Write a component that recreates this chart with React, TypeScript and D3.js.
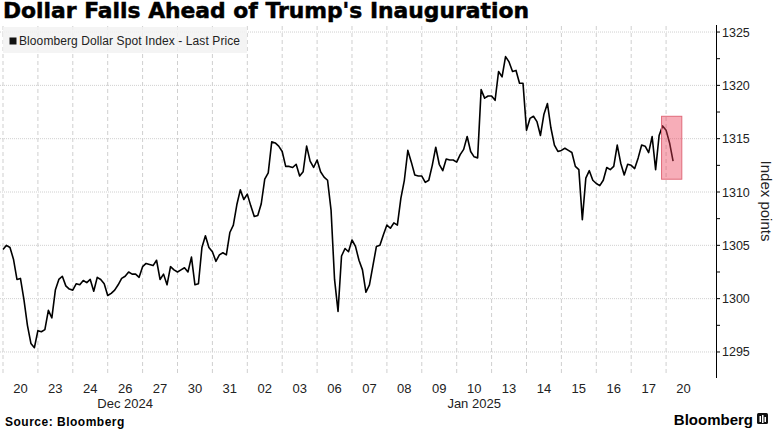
import React from "react";
import * as d3 from "d3";

const dayLabels = ["20", "23", "24", "26", "27", "30", "31", "02", "03", "06", "07", "08", "09", "10", "13", "14", "15", "16", "17", "20"];
const monthLabels = ["Dec 2024", "Jan 2025"];
const monthFirstDay = [0, 7];
const monthLastDay = [6, 19];
const yTicks = [1295, 1300, 1305, 1310, 1315, 1320, 1325];
const POINTS_PER_DAY = 10;

const indexValues = [
  1304.6, 1305.0, 1304.8, 1303.7, 1301.8, 1301.9, 1299.9, 1297.5, 1295.8, 1295.4,
  1297.0, 1296.9, 1297.1, 1298.9, 1298.2, 1300.8, 1301.8, 1302.1, 1301.2, 1300.9,
  1300.8, 1301.4, 1301.3, 1301.7, 1301.5, 1301.8, 1300.7, 1302.0, 1301.8, 1301.4,
  1300.3, 1300.5, 1300.8, 1301.3, 1301.9, 1302.1, 1302.5, 1302.3, 1302.3, 1302.0,
  1303.0, 1303.3, 1303.2, 1303.1, 1303.6, 1301.8, 1302.3, 1301.3, 1303.0, 1302.7,
  1302.5, 1302.7, 1302.9, 1302.5, 1303.9, 1301.3, 1301.4, 1304.8, 1305.9, 1304.8,
  1304.4, 1303.5, 1304.1, 1304.3, 1304.1, 1306.2, 1306.9, 1308.8, 1310.2, 1309.3,
  1309.8, 1308.7, 1307.7, 1307.8, 1308.9, 1311.2, 1311.8, 1314.7, 1314.6, 1314.3,
  1313.8, 1312.4, 1312.4, 1312.3, 1312.6, 1311.5, 1311.9, 1314.3, 1312.9, 1312.3,
  1313.0, 1311.9, 1311.4, 1311.1, 1308.3, 1301.8, 1298.8, 1304.0, 1304.7, 1304.4,
  1305.5, 1304.9, 1303.6, 1302.7, 1300.6, 1301.3, 1303.1, 1304.9, 1305.0, 1306.0,
  1306.9, 1306.6, 1307.1, 1306.9, 1309.4, 1311.1, 1313.9, 1312.8, 1311.6, 1311.5,
  1311.5, 1310.9, 1311.1, 1312.5, 1314.2, 1312.6, 1312.0, 1313.1, 1313.0, 1313.0,
  1312.8, 1313.5, 1314.0, 1315.2, 1313.8, 1313.3, 1313.2, 1319.6, 1318.8, 1319.0,
  1319.0, 1318.6, 1321.3, 1320.8, 1322.7, 1322.2, 1321.3, 1321.4, 1320.2, 1320.2,
  1315.8, 1316.9, 1317.1, 1316.6, 1315.3, 1317.3, 1318.3, 1316.0, 1314.4, 1313.8,
  1313.9, 1314.1, 1313.9, 1313.7, 1312.4, 1312.1, 1307.4, 1311.3, 1312.0, 1311.1,
  1310.8, 1310.6, 1311.1, 1312.3, 1312.1, 1312.4, 1314.4, 1312.7, 1311.6, 1312.6,
  1312.5, 1312.2, 1313.2, 1314.4, 1314.3, 1313.7, 1315.2, 1312.1, 1315.3, 1316.2,
  1315.8, 1314.6, 1312.9,
];

// highlighted region (fractional trading days, index points)
const highlightDays = [18.87, 19.45];
const highlightRange = [1311.2, 1317.1];

const W = 783;
const H = 431;
const FONT = "'Liberation Sans', Arial, sans-serif";
const TITLE_FONT = "'DejaVu Sans', 'Liberation Sans', sans-serif";

export default function App() {
  const x = d3.scaleLinear().domain([0, 20.43]).range([3, 716]);
  const y = d3.scaleLinear().domain([1292.56, 1325.66]).range([378, 25]);

  const points = indexValues.map((v, i) => [i / POINTS_PER_DAY, v] as [number, number]);
  const line = d3
    .line<[number, number]>()
    .x((d) => x(d[0]))
    .y((d) => y(d[1]))
    .curve(d3.curveLinear);

  const minorTicks = d3.range(1295, 1326, 2.5);

  return (
    <svg width={W} height={H} style={{ display: "block", position: "absolute", left: 0, top: 0, background: "#fff" }}>
      <rect x={0} y={0} width={W} height={H} fill="#fff" />
      {/* title */}
      <text
        x={3}
        y={18}
        fontFamily={TITLE_FONT}
        fontWeight="bold"
        fontSize={21}
        fill="#000"
        stroke="#000"
        strokeWidth={0.5}
        textLength={526}
        lengthAdjust="spacingAndGlyphs"
      >
        Dollar Falls Ahead of Trump's Inauguration
      </text>

      {/* horizontal grid */}
      {yTicks.map((t) => (
        <line key={"h" + t} x1={0} x2={716} y1={y(t)} y2={y(t)} stroke="#d0d0d0" strokeWidth={1} strokeDasharray="1,1" />
      ))}
      {/* vertical grid */}
      {dayLabels.map((_, i) => (
        <line key={"v" + i} x1={x(i)} x2={x(i)} y1={26} y2={376} stroke="#cfcfcf" strokeWidth={1} strokeDasharray="4,3" />
      ))}

      {/* legend */}
      <rect x={3} y={27} width={244} height={26} fill="#f2f2f2" opacity={0.85} />
      <rect x={9.5} y={37.5} width={7} height={7} fill="#111" />
      <text x={19} y={45} fontFamily={FONT} fontSize={12} fill="#222" textLength={221} lengthAdjust="spacing">
        Bloomberg Dollar Spot Index - Last Price
      </text>

      {/* series */}
      <path d={line(points) || ""} fill="none" stroke="#000" strokeWidth={1.6} strokeLinejoin="round" />

      {/* highlight */}
      <rect
        x={x(highlightDays[0])}
        y={y(highlightRange[1])}
        width={x(highlightDays[1]) - x(highlightDays[0])}
        height={y(highlightRange[0]) - y(highlightRange[1])}
        fill="rgba(236,60,85,0.42)"
        stroke="#e06a7a"
        strokeWidth={1}
      />

      {/* y axis */}
      <line x1={716.5} x2={716.5} y1={25} y2={378} stroke="#000" strokeWidth={1} />
      {minorTicks.map((t) => (
        <line key={"m" + t} x1={716.5} x2={720} y1={y(t)} y2={y(t)} stroke="#000" strokeWidth={1} />
      ))}
      {yTicks.map((t) => (
        <text key={"yl" + t} x={722} y={y(t) + 4.5} fontFamily={FONT} fontSize={12.5} fill="#222">
          {t}
        </text>
      ))}
      <text
        transform={`translate(761,201) rotate(90)`}
        textAnchor="middle"
        fontFamily={FONT}
        fontSize={15}
        fill="#222"
      >
        Index points
      </text>

      {/* x labels */}
      {dayLabels.map((d, i) => (
        <text key={"xl" + i} x={x(i + 0.5)} y={393} textAnchor="middle" fontFamily={FONT} fontSize={13} fill="#222">
          {d}
        </text>
      ))}
      {monthLabels.map((m, i) => (
        <text
          key={"ml" + i}
          x={(x(monthFirstDay[i] + 0.5) + x(monthLastDay[i] + 0.5)) / 2}
          y={408}
          textAnchor="middle"
          fontFamily={FONT}
          fontSize={13}
          fill="#222"
        >
          {m}
        </text>
      ))}

      {/* footer */}
      <text x={5} y={426} fontFamily={FONT} fontWeight="bold" fontSize={12} fill="#000" letterSpacing={0.5}>
        Source: Bloomberg
      </text>
      <text x={753} y={425} textAnchor="end" fontFamily={FONT} fontWeight="bold" fontSize={15} fill="#000">
        Bloomberg
      </text>
      <g transform="translate(757,413)">
        <rect x={0} y={0} width={11} height={11} rx={1.5} fill="#111" />
        <rect x={2.5} y={3} width={1.5} height={6} fill="#fff" />
        <rect x={5} y={2} width={1.5} height={8} fill="#fff" />
        <rect x={7.5} y={4} width={1.5} height={5} fill="#fff" />
      </g>
    </svg>
  );
}
